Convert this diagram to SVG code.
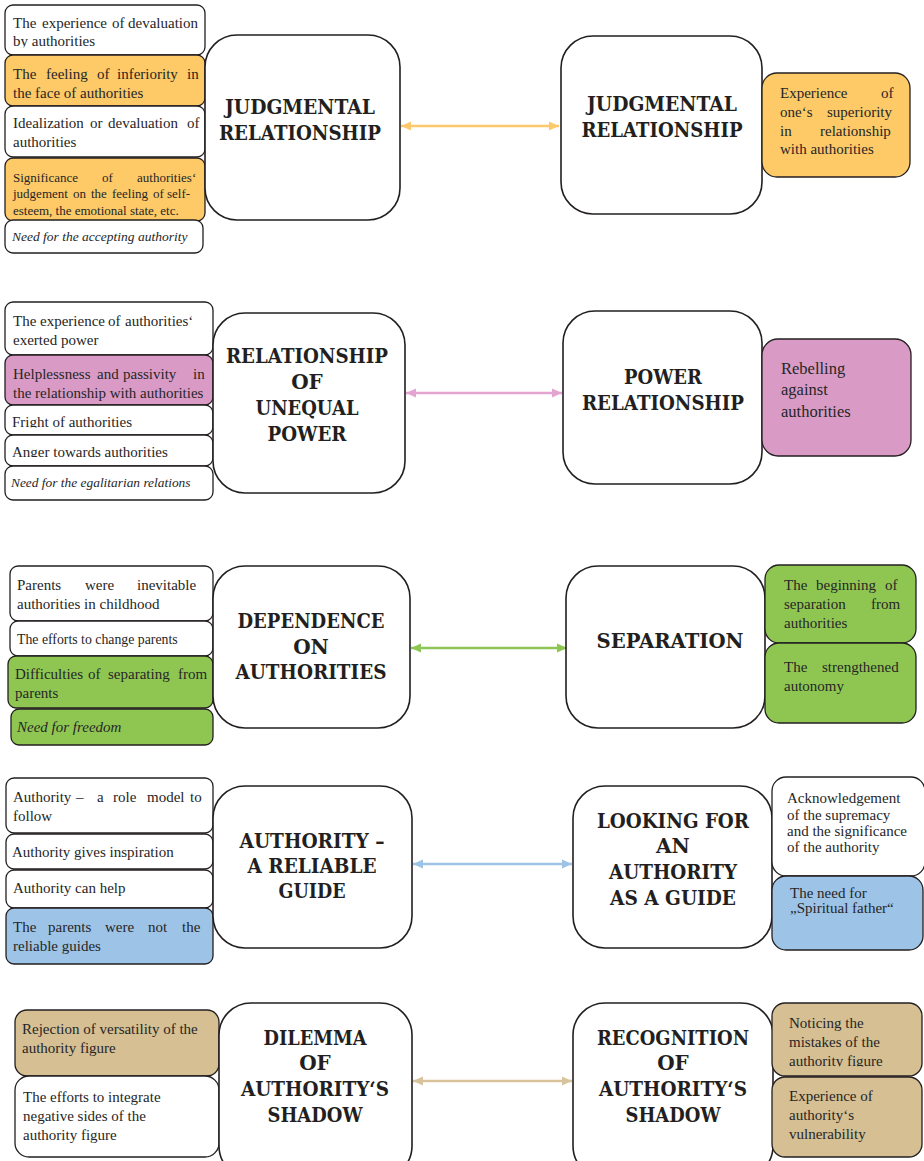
<svg xmlns="http://www.w3.org/2000/svg" width="924" height="1161" viewBox="0 0 924 1161">
<style>
.sb{stroke:#231F20;stroke-width:1.3}
.w{fill:#ffffff}.o{fill:#FDCA67}.p{fill:#D99BC5}.g{fill:#8FC652}.b{fill:#9DC3E6}.n{fill:#D5BF93}
.cb{fill:#ffffff;stroke:#231F20;stroke-width:1.6}
.t{font-family:'Liberation Serif','Times New Roman',serif;font-size:15px;fill:#262626}
.i{font-style:italic}
.h{font-family:'DejaVu Serif',serif;font-weight:bold;font-size:20px;fill:#231F20;text-anchor:middle}
.a{stroke-width:2.4;fill:none}
</style>
<defs>
<marker id="mo" markerUnits="userSpaceOnUse" markerWidth="10" markerHeight="10" refX="10" refY="5" orient="auto-start-reverse"><path d="M0,0.5 L10,5 L0,9.5 z" fill="#FBC96B"/></marker>
<marker id="mp" markerUnits="userSpaceOnUse" markerWidth="10" markerHeight="10" refX="10" refY="5" orient="auto-start-reverse"><path d="M0,0.5 L10,5 L0,9.5 z" fill="#E4A4D0"/></marker>
<marker id="mg" markerUnits="userSpaceOnUse" markerWidth="10" markerHeight="10" refX="10" refY="5" orient="auto-start-reverse"><path d="M0,0.5 L10,5 L0,9.5 z" fill="#8DC653"/></marker>
<marker id="mb" markerUnits="userSpaceOnUse" markerWidth="10" markerHeight="10" refX="10" refY="5" orient="auto-start-reverse"><path d="M0,0.5 L10,5 L0,9.5 z" fill="#9DC3E6"/></marker>
<marker id="mn" markerUnits="userSpaceOnUse" markerWidth="10" markerHeight="10" refX="10" refY="5" orient="auto-start-reverse"><path d="M0,0.5 L10,5 L0,9.5 z" fill="#D9C39C"/></marker>
<clipPath id="c1"><rect x="0" y="0" width="924" height="47.5"/></clipPath>
<clipPath id="c2"><rect x="0" y="400" width="924" height="27.5"/></clipPath>
<clipPath id="c3"><rect x="0" y="430" width="924" height="27"/></clipPath>
<clipPath id="c4"><rect x="700" y="1050" width="224" height="16.5"/></clipPath>
</defs>
<rect width="924" height="1161" fill="#ffffff"/>

<g id="connectors">
<line class="a" x1="401" y1="126" x2="559" y2="126" stroke="#FBC96B" marker-start="url(#mo)" marker-end="url(#mo)"/>
<line class="a" x1="406" y1="393" x2="562" y2="393" stroke="#E4A4D0" marker-start="url(#mp)" marker-end="url(#mp)"/>
<line class="a" x1="411" y1="648" x2="567" y2="648" stroke="#8DC653" marker-start="url(#mg)" marker-end="url(#mg)"/>
<line class="a" x1="413" y1="864" x2="572" y2="864" stroke="#9DC3E6" marker-start="url(#mb)" marker-end="url(#mb)"/>
<line class="a" x1="413" y1="1081" x2="572" y2="1081" stroke="#D9C39C" marker-start="url(#mn)" marker-end="url(#mn)"/>
</g>

<!-- Row 1 -->
<g id="r1-l1"><rect class="sb w" x="5" y="5" width="200" height="50" rx="8"/>
<text class="t" y="28"><tspan x="13">The</tspan><tspan x="42">experience</tspan><tspan x="112">of</tspan><tspan x="128">devaluation</tspan></text>
<text class="t" x="13" y="46" clip-path="url(#c1)">by authorities</text></g>
<g id="r1-l2"><rect class="sb o" x="5" y="55" width="200" height="51" rx="8"/>
<text class="t" y="79"><tspan x="13">The</tspan><tspan x="46">feeling</tspan><tspan x="97">of</tspan><tspan x="117">inferiority</tspan><tspan x="187">in</tspan></text>
<text class="t" x="13" y="98">the face of authorities</text></g>
<g id="r1-l3"><rect class="sb w" x="5" y="106" width="200" height="51" rx="8"/>
<text class="t" y="128"><tspan x="13">Idealization</tspan><tspan x="90">or</tspan><tspan x="108">devaluation</tspan><tspan x="187">of</tspan></text>
<text class="t" x="13" y="147">authorities</text></g>
<g id="r1-l4"><rect class="sb o" x="5" y="158" width="200" height="63" rx="8"/>
<text class="t" y="182" style="font-size:13px"><tspan x="13">Significance</tspan><tspan x="102">of</tspan><tspan x="137">authorities‘</tspan></text>
<text class="t" y="198" style="font-size:13px"><tspan x="13">judgement</tspan><tspan x="73">on</tspan><tspan x="91">the</tspan><tspan x="112">feeling</tspan><tspan x="153">of</tspan><tspan x="167">self-</tspan></text>
<text class="t" x="13" y="215" style="font-size:13px">esteem, the emotional state, etc.</text></g>
<g id="r1-l5"><rect class="sb w" x="5" y="220" width="198" height="33" rx="8"/>
<text class="t i" x="12" y="241" style="font-size:13.5px">Need for the accepting authority</text></g>
<g id="r1-c1"><rect class="cb" x="205" y="35" width="195" height="185" rx="32"/>
<text class="h" x="300" y="114" textLength="150" lengthAdjust="spacingAndGlyphs">JUDGMENTAL</text>
<text class="h" x="300" y="140" textLength="162" lengthAdjust="spacingAndGlyphs">RELATIONSHIP</text></g>
<g id="r1-c2"><rect class="cb" x="561" y="36" width="201" height="178" rx="32"/>
<text class="h" x="662" y="111" textLength="150" lengthAdjust="spacingAndGlyphs">JUDGMENTAL</text>
<text class="h" x="662" y="137" textLength="161" lengthAdjust="spacingAndGlyphs">RELATIONSHIP</text></g>
<g id="r1-r1"><rect class="sb o" x="762" y="73" width="148" height="104" rx="15"/>
<text class="t" y="98"><tspan x="780">Experience</tspan><tspan x="881">of</tspan></text>
<text class="t" y="117"><tspan x="780">one‘s</tspan><tspan x="827">superiority</tspan></text>
<text class="t" y="136"><tspan x="780">in</tspan><tspan x="820">relationship</tspan></text>
<text class="t" x="780" y="154">with authorities</text></g>

<!-- Row 2 -->
<g id="r2-l1"><rect class="sb w" x="5" y="302" width="208" height="53" rx="8"/>
<text class="t" y="326"><tspan x="13">The</tspan><tspan x="40">experience</tspan><tspan x="108">of</tspan><tspan x="125">authorities‘</tspan></text>
<text class="t" x="13" y="345">exerted power</text></g>
<g id="r2-l2"><rect class="sb p" x="5" y="355" width="208" height="50" rx="8"/>
<text class="t" y="379"><tspan x="13">Helplessness</tspan><tspan x="97">and</tspan><tspan x="123">passivity</tspan><tspan x="193">in</tspan></text>
<text class="t" x="13" y="398">the relationship with authorities</text></g>
<g id="r2-l3"><rect class="sb w" x="5" y="405" width="208" height="30" rx="8"/>
<text class="t" x="12" y="427" clip-path="url(#c2)">Fright of authorities</text></g>
<g id="r2-l4"><rect class="sb w" x="5" y="435" width="208" height="31" rx="8"/>
<text class="t" x="12" y="457" clip-path="url(#c3)">Anger towards authorities</text></g>
<g id="r2-l5"><rect class="sb w" x="5" y="466" width="208" height="34" rx="8"/>
<text class="t i" x="11" y="487" style="font-size:13.4px">Need for the egalitarian relations</text></g>
<g id="r2-c1"><rect class="cb" x="213" y="313" width="192" height="180" rx="32"/>
<text class="h" x="307" y="363" textLength="162" lengthAdjust="spacingAndGlyphs">RELATIONSHIP</text>
<text class="h" x="307" y="389">OF</text>
<text class="h" x="307" y="415" textLength="103" lengthAdjust="spacingAndGlyphs">UNEQUAL</text>
<text class="h" x="307" y="441" textLength="79" lengthAdjust="spacingAndGlyphs">POWER</text></g>
<g id="r2-c2"><rect class="cb" x="563" y="311" width="199" height="173" rx="32"/>
<text class="h" x="663" y="384" textLength="78" lengthAdjust="spacingAndGlyphs">POWER</text>
<text class="h" x="663" y="410" textLength="162" lengthAdjust="spacingAndGlyphs">RELATIONSHIP</text></g>
<g id="r2-r1"><rect class="sb p" x="762" y="339" width="149" height="117" rx="16"/>
<text class="t" x="781" y="374" style="font-size:16.5px">Rebelling</text>
<text class="t" x="781" y="395" style="font-size:16.5px">against</text>
<text class="t" x="781" y="417" style="font-size:16.5px">authorities</text></g>

<!-- Row 3 -->
<g id="r3-l1"><rect class="sb w" x="10" y="566" width="203" height="55" rx="8"/>
<text class="t" y="590"><tspan x="17">Parents</tspan><tspan x="85">were</tspan><tspan x="137">inevitable</tspan></text>
<text class="t" x="17" y="609">authorities in childhood</text></g>
<g id="r3-l2"><rect class="sb w" x="10" y="621" width="203" height="35" rx="8"/>
<text class="t" x="17" y="644" style="font-size:13.8px">The efforts to change parents</text></g>
<g id="r3-l3"><rect class="sb g" x="8" y="656" width="205" height="52" rx="8"/>
<text class="t" y="679"><tspan x="15">Difficulties</tspan><tspan x="88">of</tspan><tspan x="108">separating</tspan><tspan x="178">from</tspan></text>
<text class="t" x="15" y="698">parents</text></g>
<g id="r3-l4"><rect class="sb g" x="11" y="709" width="202" height="36" rx="8"/>
<text class="t i" x="17" y="732">Need for freedom</text></g>
<g id="r3-c1"><rect class="cb" x="213" y="566" width="197" height="162" rx="32"/>
<text class="h" x="311" y="628" textLength="147" lengthAdjust="spacingAndGlyphs">DEPENDENCE</text>
<text class="h" x="311" y="654">ON</text>
<text class="h" x="311" y="679" textLength="151" lengthAdjust="spacingAndGlyphs">AUTHORITIES</text></g>
<g id="r3-c2"><rect class="cb" x="566" y="566" width="199" height="162" rx="32"/>
<text class="h" x="670" y="648" textLength="147" lengthAdjust="spacingAndGlyphs">SEPARATION</text></g>
<g id="r3-r1"><rect class="sb g" x="765" y="565" width="151" height="78" rx="14"/>
<text class="t" y="590"><tspan x="784">The</tspan><tspan x="816">beginning</tspan><tspan x="885">of</tspan></text>
<text class="t" y="609"><tspan x="784">separation</tspan><tspan x="871">from</tspan></text>
<text class="t" x="784" y="628">authorities</text></g>
<g id="r3-r2"><rect class="sb g" x="765" y="643" width="151" height="80" rx="14"/>
<text class="t" y="672"><tspan x="784">The</tspan><tspan x="822">strengthened</tspan></text>
<text class="t" x="784" y="691">autonomy</text></g>

<!-- Row 4 -->
<g id="r4-l1"><rect class="sb w" x="6" y="778" width="207" height="55" rx="8"/>
<text class="t" y="802"><tspan x="13">Authority</tspan><tspan x="76">–</tspan><tspan x="97">a</tspan><tspan x="113">role</tspan><tspan x="147">model</tspan><tspan x="190">to</tspan></text>
<text class="t" x="13" y="821">follow</text></g>
<g id="r4-l2"><rect class="sb w" x="6" y="834" width="207" height="35" rx="8"/>
<text class="t" x="12" y="857">Authority gives inspiration</text></g>
<g id="r4-l3"><rect class="sb w" x="6" y="870" width="207" height="38" rx="8"/>
<text class="t" x="13" y="893">Authority can help</text></g>
<g id="r4-l4"><rect class="sb b" x="6" y="908" width="207" height="56" rx="8"/>
<text class="t" y="932"><tspan x="13">The</tspan><tspan x="48">parents</tspan><tspan x="105">were</tspan><tspan x="148">not</tspan><tspan x="182">the</tspan></text>
<text class="t" x="13" y="951">reliable guides</text></g>
<g id="r4-c1"><rect class="cb" x="213" y="786" width="199" height="162" rx="32"/>
<text class="h" x="312" y="848" textLength="145" lengthAdjust="spacingAndGlyphs">AUTHORITY –</text>
<text class="h" x="312" y="873" textLength="129" lengthAdjust="spacingAndGlyphs">A RELIABLE</text>
<text class="h" x="312" y="898" textLength="67" lengthAdjust="spacingAndGlyphs">GUIDE</text></g>
<g id="r4-c2"><rect class="cb" x="573" y="786" width="199" height="162" rx="32"/>
<text class="h" x="673" y="828" textLength="152" lengthAdjust="spacingAndGlyphs">LOOKING FOR</text>
<text class="h" x="673" y="853">AN</text>
<text class="h" x="673" y="879" textLength="128" lengthAdjust="spacingAndGlyphs">AUTHORITY</text>
<text class="h" x="673" y="905" textLength="126" lengthAdjust="spacingAndGlyphs">AS A GUIDE</text></g>
<g id="r4-r1"><rect class="sb w" x="772" y="777" width="153" height="99" rx="14"/>
<text class="t" x="787" y="803">Acknowledgement</text>
<text class="t" x="787" y="820">of the supremacy</text>
<text class="t" x="787" y="836">and the significance</text>
<text class="t" x="787" y="852">of the authority</text></g>
<g id="r4-r2"><rect class="sb b" x="772" y="876" width="151" height="74" rx="14"/>
<text class="t" x="790" y="898">The need for</text>
<text class="t" x="790" y="913">„Spiritual father“</text></g>

<!-- Row 5 -->
<g id="r5-l1"><rect class="sb n" x="15" y="1010" width="204" height="66" rx="12"/>
<text class="t" x="22" y="1034">Rejection of versatility of the</text>
<text class="t" x="22" y="1053">authority figure</text></g>
<g id="r5-l2"><rect class="sb w" x="15" y="1076" width="204" height="81" rx="14"/>
<text class="t" x="23" y="1102">The efforts to integrate</text>
<text class="t" x="23" y="1121">negative sides of the</text>
<text class="t" x="23" y="1140">authority figure</text></g>
<g id="r5-c1"><rect class="cb" x="219" y="1003" width="193" height="175" rx="32"/>
<text class="h" x="315" y="1045" textLength="103" lengthAdjust="spacingAndGlyphs">DILEMMA</text>
<text class="h" x="315" y="1070">OF</text>
<text class="h" x="315" y="1096" textLength="148" lengthAdjust="spacingAndGlyphs">AUTHORITY‘S</text>
<text class="h" x="315" y="1122" textLength="95" lengthAdjust="spacingAndGlyphs">SHADOW</text></g>
<g id="r5-c2"><rect class="cb" x="573" y="1003" width="200" height="175" rx="32"/>
<text class="h" x="673" y="1045" textLength="152" lengthAdjust="spacingAndGlyphs">RECOGNITION</text>
<text class="h" x="673" y="1070">OF</text>
<text class="h" x="673" y="1096" textLength="148" lengthAdjust="spacingAndGlyphs">AUTHORITY‘S</text>
<text class="h" x="673" y="1122" textLength="95" lengthAdjust="spacingAndGlyphs">SHADOW</text></g>
<g id="r5-r1"><rect class="sb n" x="772" y="1003" width="150" height="73" rx="13"/>
<text class="t" x="789" y="1028">Noticing the</text>
<text class="t" x="789" y="1047">mistakes of the</text>
<text class="t" x="789" y="1066" clip-path="url(#c4)">authority figure</text></g>
<g id="r5-r2"><rect class="sb n" x="772" y="1077" width="150" height="80" rx="13"/>
<text class="t" x="789" y="1101">Experience of</text>
<text class="t" x="789" y="1120">authority‘s</text>
<text class="t" x="789" y="1139">vulnerability</text></g>
</svg>
